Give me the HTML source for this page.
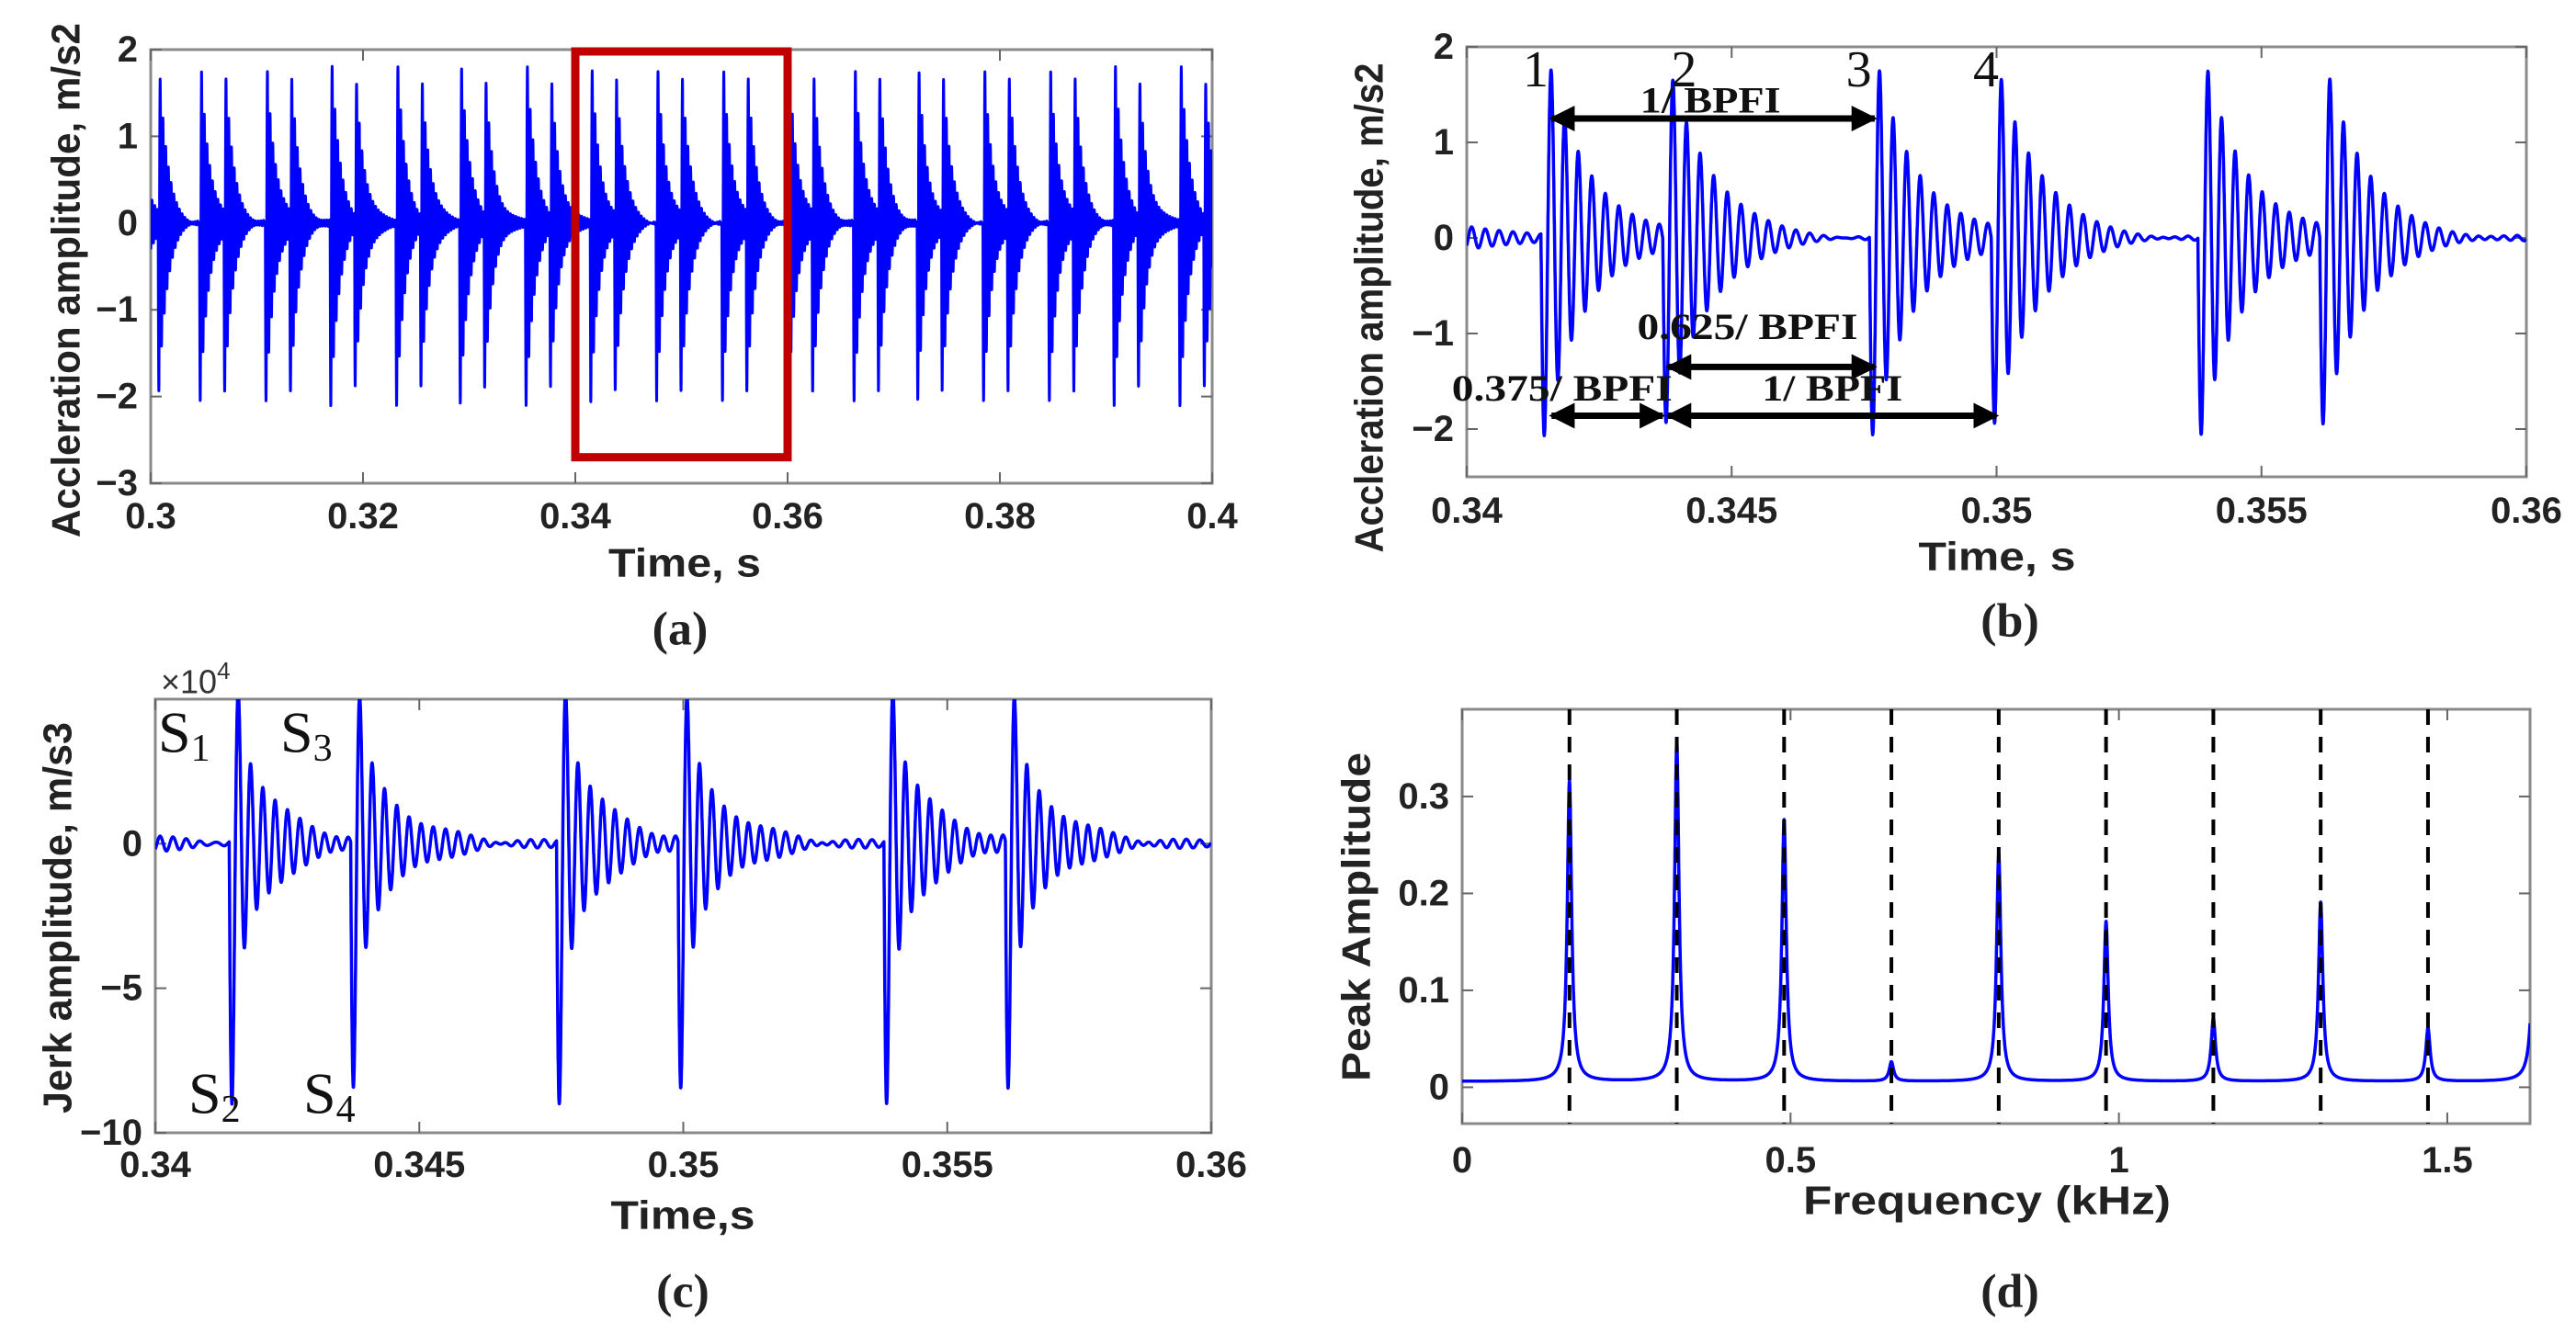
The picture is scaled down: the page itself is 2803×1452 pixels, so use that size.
<!DOCTYPE html>
<html><head><meta charset="utf-8"><style>
html,body{margin:0;padding:0;background:#fff;}
svg{display:block;}
text{font-family:"Liberation Sans",sans-serif;}
.tick{font-size:40px;font-weight:bold;fill:#222;}
.axl{font-size:44px;font-weight:bold;fill:#222;}
.pl{font-family:"Liberation Serif",serif;font-size:52px;font-weight:bold;fill:#222;}
.ann{font-family:"Liberation Serif",serif;font-size:40px;font-weight:bold;fill:#111;}
.num{font-family:"Liberation Serif",serif;font-size:56px;fill:#111;}
.snum{font-family:"Liberation Serif",serif;font-size:64px;fill:#111;}
</style></head><body>
<svg id="fig" width="2803" height="1452" viewBox="0 0 2803 1452" xmlns="http://www.w3.org/2000/svg">
<defs>
<marker id="ah" viewBox="0 0 10 10" refX="9" refY="5" markerWidth="4" markerHeight="4" orient="auto-start-reverse"><path d="M0,0 L10,5 L0,10 z" fill="#000"/></marker>
<clipPath id="clipA"><rect x="164" y="54" width="1155" height="472"/></clipPath>
<clipPath id="clipB"><rect x="1596" y="51" width="1153" height="468"/></clipPath>
<clipPath id="clipC"><rect x="169" y="761" width="1149" height="472"/></clipPath>
<clipPath id="clipD"><rect x="1591" y="772" width="1162" height="451"/></clipPath>
</defs>
</svg>
<script>
// ---- data ----
const impactTimes = [0.2984,0.3007,0.3046,0.3069,0.3108,0.3131,0.3169,0.3192,0.3231,0.3254,0.3291,0.3314,0.3353,0.3376,0.3414,0.3437,0.3476,0.3499,0.3538,0.3561,0.3600,0.3623,0.3662,0.3685,0.3722,0.3745,0.3784,0.3807,0.3846,0.3869,0.3907,0.3930,0.3969,0.3992];
const impactKind = [0,1,0,1,0,1,0,1,0,1,0,1,0,1,0,1,0,1,0,1,0,1,0,1,0,1,0,1,0,1,0,1,0,1];
const accelAmps = [2.25, 1.95];
const jerkSpikeAmps = [8.0, 7.2];
const jerkOscAmps = [4.3, 3.9];
const harmonicFreqs = [0.1634,0.3268,0.4902,0.6536,0.8170,0.9804,1.1438,1.3072,1.4706,1.6340];
const harmonicPeaks = [0.31,0.35,0.27,0.02,0.235,0.165,0.065,0.185,0.055,0.30];
const aXTicks = [0.3,0.32,0.34,0.36,0.38,0.4];
const aXLabels = ["0.3","0.32","0.34","0.36","0.38","0.4"];
const aYTicks = [-3,-2,-1,0,1,2];
const aYLabels = ["−3","−2","−1","0","1","2"];
const bXTicks = [0.34,0.345,0.35,0.355,0.36];
const bXLabels = ["0.34","0.345","0.35","0.355","0.36"];
const bYTicks = [-2,-1,0,1,2];
const bYLabels = ["−2","−1","0","1","2"];
const cYTicks = [-10,-5,0];
const cYLabels = ["−10","−5","0"];
const dXTicks = [0,0.5,1,1.5];
const dXLabels = ["0","0.5","1","1.5"];
const dYTicks = [0,0.1,0.2,0.3];
const dYLabels = ["0","0.1","0.2","0.3"];

const NS = "http://www.w3.org/2000/svg";
const svg = document.getElementById('fig');
function mk(tag, attrs, parent){
  const e = document.createElementNS(NS, tag);
  for (const k in attrs) e.setAttribute(k, attrs[k]);
  (parent||svg).appendChild(e);
  return e;
}
function scale(d0,d1,r0,r1){ return v => r0 + (v-d0)/(d1-d0)*(r1-r0); }

const F_ACC = 3900, TAU = 0.0008;
function accel(t){
  let y = 0.03*Math.sin(2*Math.PI*3700*t);
  for (let i=0;i<impactTimes.length;i++){
    const tau = t - impactTimes[i];
    if (tau < 0 || tau > 0.006) continue;
    y += accelAmps[impactKind[i]]*Math.exp(-tau/TAU)*(-Math.sin(2*Math.PI*F_ACC*tau));
  }
  return y;
}
function jerk(t){
  let y = 0.1*Math.sin(2*Math.PI*3700*t);
  for (let i=0;i<impactTimes.length;i++){
    const tau = t - impactTimes[i];
    if (tau < 0 || tau > 0.006) continue;
    const s = -Math.sin(2*Math.PI*4300*tau);
    y += jerkSpikeAmps[impactKind[i]]*Math.exp(-tau/0.00012)*s + jerkOscAmps[impactKind[i]]*Math.exp(-tau/0.0008)*s;
  }
  return y;
}
function spectrum(f){
  let y = 0.006;
  for (let i=0;i<harmonicFreqs.length;i++){
    const u=(f-harmonicFreqs[i])/0.004;
    y += harmonicPeaks[i]/(1+u*u);
  }
  return y;
}

function axes(name, L,T,R,B, xt, xl, yt, yl, sx, sy, xLabY, yLabX){
  const g = mk('g',{});
  
  
  const fr = mk('rect',{x:L,y:T,width:R-L,height:B-T,fill:'none',stroke:'#8a8a8a','stroke-width':3},g);
  
  
  xt.forEach((v,i)=>{
    const x = sx(v);
    mk('line',{x1:x,x2:x,y1:B,y2:B-12,stroke:'#666','stroke-width':2},g);
    mk('line',{x1:x,x2:x,y1:T,y2:T+12,stroke:'#666','stroke-width':2},g);
    const t = mk('text',{x:x,y:xLabY,'text-anchor':'middle','dominant-baseline':'central',class:'tick'},g);
    t.textContent = xl[i];
    
    
  });
  yt.forEach((v,i)=>{
    const y = sy(v);
    mk('line',{x1:L,x2:L+12,y1:y,y2:y,stroke:'#666','stroke-width':2},g);
    mk('line',{x1:R,x2:R-12,y1:y,y2:y,stroke:'#666','stroke-width':2},g);
    const t = mk('text',{x:yLabX,y:y,'text-anchor':'end','dominant-baseline':'central',class:'tick'},g);
    t.textContent = yl[i];
    
    
  });
}
function label(txt, x, y, cls, len, rot, name){
  const t = mk('text',{x:x,y:y,'text-anchor':'middle','dominant-baseline':'central',class:cls});
  if (len) { t.setAttribute('textLength', len); t.setAttribute('lengthAdjust','spacingAndGlyphs'); }
  if (rot) t.setAttribute('transform','rotate(-90 '+x+' '+y+')');
  t.textContent = txt;
  
  
  return t;
}
function curve(fn, t0, t1, n, sx, sy, clip, color, w, name){
  let d = '';
  for (let i=0;i<=n;i++){
    const t = t0 + (t1-t0)*i/n;
    d += (i?'L':'M') + sx(t).toFixed(1) + ',' + sy(fn(t)).toFixed(1);
  }
  const p = mk('path',{d:d,fill:'none',stroke:color,'stroke-width':w,'clip-path':'url(#'+clip+')','stroke-linejoin':'round'});
  
  
}

// ---- panel a ----
const axA = scale(0.3,0.4,164,1319), ayA = scale(-3,2,526,54);
axes('panel-a',164,54,1319,526,aXTicks,aXLabels,aYTicks,aYLabels,axA,ayA,562,150);
curve(accel,0.3,0.4,12000,axA,ayA,'clipA','#0000ff',3,'acceleration-signal-a');
const box = mk('rect',{x:axA(0.34),y:ayA(2)+2,width:axA(0.36)-axA(0.34),height:ayA(-2.7)-ayA(2)-2,fill:'none',stroke:'#c00000','stroke-width':9});


label('Time, s',745,613,'axl',166,false,'x-axis-title-a');
label('Accleration amplitude, m/s2',72,305,'axl',560,true,'y-axis-title-a');
label('(a)',740,685,'pl',0,false,'panel-label-a');

// ---- panel b ----
const axB = scale(0.34,0.36,1596,2749), ayB = scale(-2.5,2,519,51);
axes('panel-b',1596,51,2749,519,bXTicks,bXLabels,bYTicks,bYLabels,axB,ayB,556,1582);
curve(accel,0.34,0.36,10000,axB,ayB,'clipB','#0000ff',3.5,'acceleration-signal-b');
label('Time, s',2173,606,'axl',171,false,'x-axis-title-b');
label('Accleration amplitude, m/s2',1490,335,'axl',533,true,'y-axis-title-b');
label('(b)',2187,676,'pl',0,false,'panel-label-b');
[['1',0.3413],['2',0.3441],['3',0.3474],['4',0.3498]].forEach(p=>{
  label(p[0],axB(p[1]),ayB(1.76),'num',0,false,'impact-number-'+p[0]);
});
function arrow(t0,t1,v,name){
  const l = mk('line',{x1:axB(t0),x2:axB(t1),y1:ayB(v),y2:ayB(v),stroke:'#000','stroke-width':7,'marker-start':'url(#ah)','marker-end':'url(#ah)'});
  
  
}
arrow(0.3416,0.3477,1.25,'period-arrow-top');
label('1/ BPFI',axB(0.3446),ayB(1.44),'ann',153,false,'period-label-top');
arrow(0.3438,0.3477,-1.35,'arrow-0625');
label('0.625/ BPFI',axB(0.3453),ayB(-0.93),'ann',240,false,'label-0625');
arrow(0.3416,0.3437,-1.86,'arrow-0375');
label('0.375/ BPFI',axB(0.3418),ayB(-1.57),'ann',240,false,'label-0375');
arrow(0.3438,0.3500,-1.86,'period-arrow-bottom');
label('1/ BPFI',axB(0.3469),ayB(-1.57),'ann',153,false,'period-label-bottom');

// ---- panel c ----
const axC = scale(0.34,0.36,169,1318), ayC = scale(-10,5,1233,761);
axes('panel-c',169,761,1318,1233,bXTicks,bXLabels,cYTicks,cYLabels,axC,ayC,1268,155);
curve(jerk,0.34,0.36,10000,axC,ayC,'clipC','#0000ff',3.5,'jerk-signal');
label('Time,s',743,1323,'axl',157,false,'x-axis-title-c');
label('Jerk amplitude, m/s3',63,999,'axl',426,true,'y-axis-title-c');
label('(c)',743,1406,'pl',0,false,'panel-label-c');
const ex = mk('text',{x:175,y:742,'dominant-baseline':'central',style:'font-size:36px;fill:#333'});
ex.innerHTML = '×10<tspan dy="-12" style="font-size:26px">4</tspan>';


[['S','1',172,797],['S','3',305,797],['S','2',205,1190],['S','4',330,1190]].forEach(s=>{
  const t = mk('text',{x:s[2],y:s[3],'dominant-baseline':'central',class:'snum'});
  t.innerHTML = s[0]+'<tspan dy="18" style="font-size:42px">'+s[1]+'</tspan>';
  
  
});

// ---- panel d ----
const axD = scale(0,1.626,1591,2753), ayD = scale(-0.0375,0.39,1223,772);
axes('panel-d',1591,772,2753,1223,dXTicks,dXLabels,dYTicks,dYLabels,axD,ayD,1263,1577);
curve(spectrum,0,1.626,8000,axD,ayD,'clipD','#0000ff',3.5,'envelope-spectrum');
harmonicFreqs.forEach((f,i)=>{
  if (f>1.626) return;
  const l = mk('line',{x1:axD(f),x2:axD(f),y1:772,y2:1223,stroke:'#000','stroke-width':4,'stroke-dasharray':'17 13'});
  
  
});
label('Frequency (kHz)',2162,1307,'axl',400,false,'x-axis-title-d');
label('Peak Amplitude',1476,998,'axl',358,true,'y-axis-title-d');
label('(d)',2187,1406,'pl',0,false,'panel-label-d');
</script>
</body></html>
